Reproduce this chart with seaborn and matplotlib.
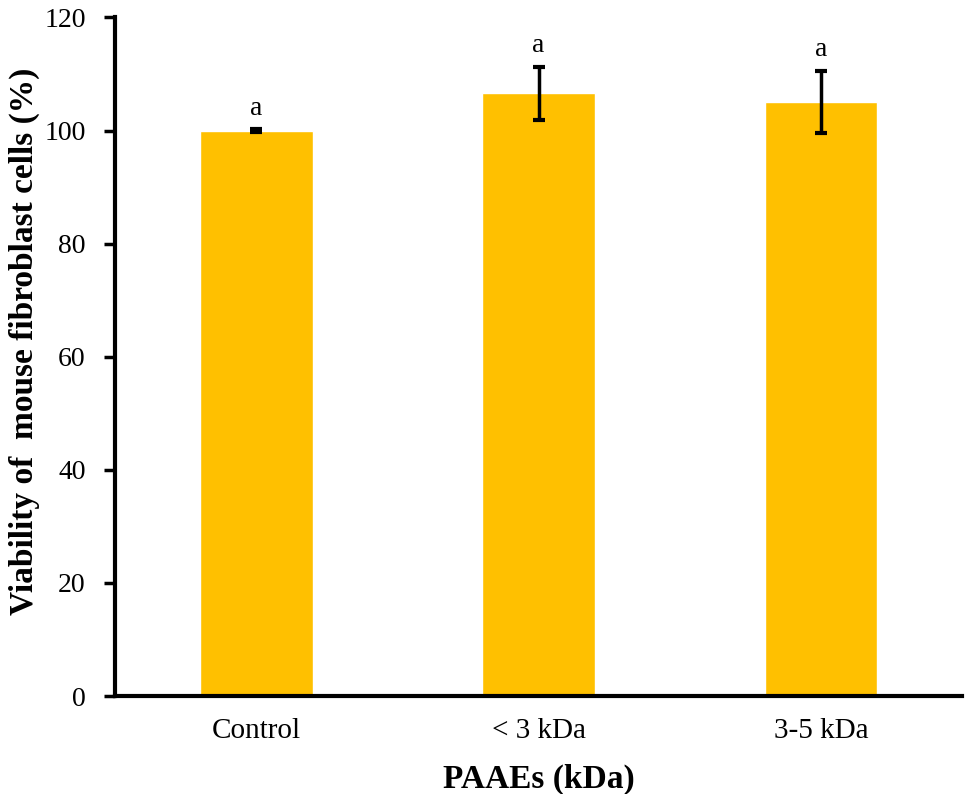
import matplotlib
matplotlib.use("Agg")
import matplotlib.pyplot as plt
import seaborn as sns
import pandas as pd

# ---------------- Data ----------------
groups = ["Control", "< 3 kDa", "3-5 kDa"]
viability = [100.0, 106.6, 105.0]
sd = [0.2, 4.7, 5.5]
letters = ["a", "a", "a"]

df = pd.DataFrame({"group": groups, "viability": viability, "sd": sd})

# ---------------- Style ----------------
sns.set_style("white")
plt.rcParams["font.family"] = ["Liberation Serif", "DejaVu Serif"]
plt.rcParams["text.color"] = "black"
plt.rcParams["axes.labelcolor"] = "black"
plt.rcParams["xtick.color"] = "black"
plt.rcParams["ytick.color"] = "black"

fig = plt.figure(figsize=(9.69, 7.94), dpi=100)
ax = fig.add_axes([0.1187, 0.1234, 0.8743, 0.8546])

sns.barplot(data=df, x="group", y="viability", color="#FFC000",
            saturation=1, width=0.4, errorbar=None, ax=ax)
ax.errorbar(range(len(groups)), df["viability"], yerr=df["sd"],
            fmt="none", ecolor="black", elinewidth=2.5, capsize=4, capthick=3)

for i, (v, e, l) in enumerate(zip(viability, sd, letters)):
    ax.text(i, v + e + 2.6, l, ha="center", va="baseline", fontsize=20)

ax.set_xlim(-0.5, 2.5)
ax.set_ylim(0, 120)
ax.set_yticks(range(0, 121, 20))

for s in ["top", "right"]:
    ax.spines[s].set_visible(False)
for s in ["left", "bottom"]:
    ax.spines[s].set_linewidth(3)
    ax.spines[s].set_color("black")

ax.tick_params(axis="y", direction="out", length=8, width=2.5, labelsize=20,
               left=True, pad=13)
ax.tick_params(axis="x", length=0, labelsize=21, pad=16)

ax.set_xlabel("PAAEs (kDa)", fontsize=24, fontweight="bold", labelpad=14)
ax.set_ylabel("Viability of  mouse fibroblast cells (%)", fontsize=24,
              fontweight="bold")
ax.yaxis.set_label_coords(-0.088, 0.523)

fig.savefig("out.png", dpi=100)
